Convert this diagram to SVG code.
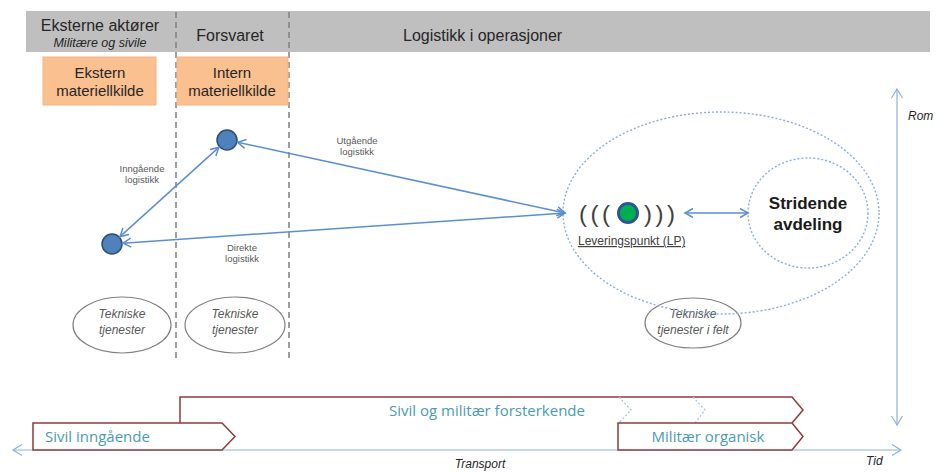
<svg xmlns="http://www.w3.org/2000/svg" width="936" height="472" viewBox="0 0 936 472">
  <style>
    .hdr { font-family: "Liberation Sans", Arial, sans-serif; fill: #262626; }
    .src { font-family: "Liberation Sans", Arial, sans-serif; font-size: 15px; fill: #262626; text-anchor: middle; }
    .lbl { font-family: "Liberation Sans", Arial, sans-serif; font-size: 9.5px; fill: #595959; text-anchor: middle; }
    .tek { font-family: "Liberation Sans", Arial, sans-serif; font-size: 12px; font-style: italic; fill: #595959; text-anchor: middle; }
    .axis-lbl { font-family: "Liberation Sans", Arial, sans-serif; font-size: 12px; font-style: italic; fill: #262626; }
    .phase { font-family: "Open Sans", "Liberation Sans", sans-serif; font-size: 15px; fill: #4a9bb1; }
    .paren { font-family: "Liberation Sans", Arial, sans-serif; font-size: 24px; fill: #404040; letter-spacing: 3.5px; }
    .sep { stroke: #808080; stroke-width: 1.5; stroke-dasharray: 6 4; fill: none; }
    .conn { stroke: #5b8fd0; stroke-width: 1.5; fill: none; marker-start: url(#arr); marker-end: url(#arr); }
    .axis { stroke: #8fb0dc; stroke-width: 1.2; fill: none; marker-start: url(#arrAxis); marker-end: url(#arrAxis); }
    .dot { stroke: #8eaed6; stroke-width: 1.4; stroke-dasharray: 2 2; fill: none; }
    .node { fill: #4f81bd; stroke: #2c4d75; stroke-width: 1.5; }
    .svc { fill: #ffffff; stroke: #808080; stroke-width: 1.2; }
    .phase-box { fill: #ffffff; stroke: #8c3c3c; stroke-width: 1.5; }
    .src-box { fill: #fac090; stroke: #f2b585; stroke-width: 1; }
  </style>
  <defs>
    <marker id="arr" markerUnits="userSpaceOnUse" markerWidth="12" markerHeight="12" refX="9" refY="5" orient="auto-start-reverse">
      <path d="M1,0.5 L9,5 L1,9.5" fill="none" stroke="#5b8fd0" stroke-width="1.5"/>
    </marker>
    <marker id="arrAxis" markerUnits="userSpaceOnUse" markerWidth="12" markerHeight="14" refX="10" refY="6" orient="auto-start-reverse">
      <path d="M1,0.5 L10,6 L1,11.5" fill="none" stroke="#8fb0dc" stroke-width="1.2"/>
    </marker>
  </defs>

  <rect width="936" height="472" fill="#ffffff"/>

  <!-- header band -->
  <g id="header">
    <rect x="26" y="11" width="904" height="41" fill="#bfbfbf"/>
    <text class="hdr" x="100" y="31" font-size="16" text-anchor="middle">Eksterne aktører</text>
    <text class="hdr" x="100" y="47" font-size="12.5" font-style="italic" text-anchor="middle">Militære og sivile</text>
    <text class="hdr" x="230" y="41" font-size="16" text-anchor="middle">Forsvaret</text>
    <text class="hdr" x="403" y="41" font-size="16">Logistikk i operasjoner</text>
  </g>

  <!-- column separators -->
  <g id="separators">
    <line class="sep" x1="176" y1="12" x2="176" y2="360"/>
    <line class="sep" x1="289" y1="12" x2="289" y2="360"/>
  </g>

  <g id="ekstern-materiellkilde">
    <rect class="src-box" x="43" y="57" width="113" height="48"/>
    <text class="src" x="100" y="78">Ekstern</text>
    <text class="src" x="100" y="96">materiellkilde</text>
  </g>
  <g id="intern-materiellkilde">
    <rect class="src-box" x="177" y="57" width="111" height="48"/>
    <text class="src" x="232" y="78">Intern</text>
    <text class="src" x="232" y="96">materiellkilde</text>
  </g>

  <!-- technical services -->
  <g id="tekniske-ekstern">
    <ellipse class="svc" cx="122" cy="325" rx="49" ry="28"/>
    <text class="tek" x="122" y="318">Tekniske</text>
    <text class="tek" x="122" y="334">tjenester</text>
  </g>
  <g id="tekniske-intern">
    <ellipse class="svc" cx="235" cy="325" rx="50" ry="28"/>
    <text class="tek" x="235" y="318">Tekniske</text>
    <text class="tek" x="235" y="334">tjenester</text>
  </g>
  <g id="tekniske-felt">
    <ellipse class="svc" cx="693" cy="323" rx="48" ry="25"/>
    <text class="tek" x="693" y="318">Tekniske</text>
    <text class="tek" x="693" y="334">tjenester i felt</text>
  </g>

  <!-- operations area -->
  <g id="operasjonsomraade">
    <ellipse class="dot" cx="721" cy="213" rx="158" ry="101"/>
  </g>
  <g id="stridende-avdeling">
    <ellipse class="dot" cx="808" cy="213" rx="60" ry="55"/>
    <text x="808" y="209" font-family="Liberation Sans, Arial, sans-serif" font-size="17" font-weight="bold" fill="#1a1a1a" text-anchor="middle">Stridende</text>
    <text x="808" y="230" font-family="Liberation Sans, Arial, sans-serif" font-size="17" font-weight="bold" fill="#1a1a1a" text-anchor="middle">avdeling</text>
  </g>

  <!-- supply nodes -->
  <g id="node-ekstern">
    <circle class="node" cx="112" cy="244" r="10"/>
  </g>
  <g id="node-intern">
    <circle class="node" cx="227" cy="140" r="10"/>
  </g>
  <g id="leveringspunkt">
    <text class="paren" x="579" y="222">(((</text>
    <text class="paren" x="644" y="222">)))</text>
    <circle cx="628" cy="213" r="9.5" fill="#00b050" stroke="#2e5597" stroke-width="3"/>
    <text x="578" y="245" font-family="Liberation Sans, Arial, sans-serif" font-size="12" fill="#404040" text-decoration="underline">Leveringspunkt  (LP)</text>
  </g>

  <!-- logistics flows -->
  <g id="connectors">
    <line class="conn" x1="120" y1="236.6" x2="218.8" y2="147.4"/>
    <line class="conn" x1="237.7" y1="142.3" x2="565" y2="213"/>
    <line class="conn" x1="123" y1="243.2" x2="565" y2="213"/>
    <line class="conn" x1="685" y1="213" x2="748" y2="213"/>
    <text class="lbl" x="142" y="172">Inngående</text>
    <text class="lbl" x="142" y="183">logistikk</text>
    <text class="lbl" x="357" y="144">Utgående</text>
    <text class="lbl" x="357" y="155">logistikk</text>
    <text class="lbl" x="242" y="251">Direkte</text>
    <text class="lbl" x="242" y="262">logistikk</text>
  </g>

  <!-- axes -->
  <g id="axes">
    <line class="axis" x1="13" y1="450" x2="901" y2="450"/>
    <line class="axis" x1="897" y1="89" x2="897" y2="425"/>
    <text class="axis-lbl" x="480" y="468" font-size="13" text-anchor="middle">Transport</text>
    <text class="axis-lbl" x="866" y="465">Tid</text>
    <text class="axis-lbl" x="908" y="120">Rom</text>
  </g>

  <!-- transport phases -->
  <g id="fase-forsterkende">
    <path class="phase-box" d="M180,423 V397 H792 L803,410 L792,423"/>
    <path d="M619,397 L631,410 L619,423 M693,397 L705,410 L695,423" fill="none" stroke="#a6c0e0" stroke-width="1.2" stroke-dasharray="2 2"/>
    <text class="phase" x="487" y="416" text-anchor="middle">Sivil og militær forsterkende</text>
  </g>
  <g id="fase-sivil">
    <path class="phase-box" d="M33,423 H222 L235,436.5 L222,450 H33 Z"/>
    <text class="phase" x="45" y="442">Sivil inngående</text>
  </g>
  <g id="fase-militaer">
    <path class="phase-box" d="M618,423 H792 L803,436.5 L792,450 H618 Z"/>
    <text class="phase" x="708" y="442" text-anchor="middle">Militær organisk</text>
  </g>
</svg>
